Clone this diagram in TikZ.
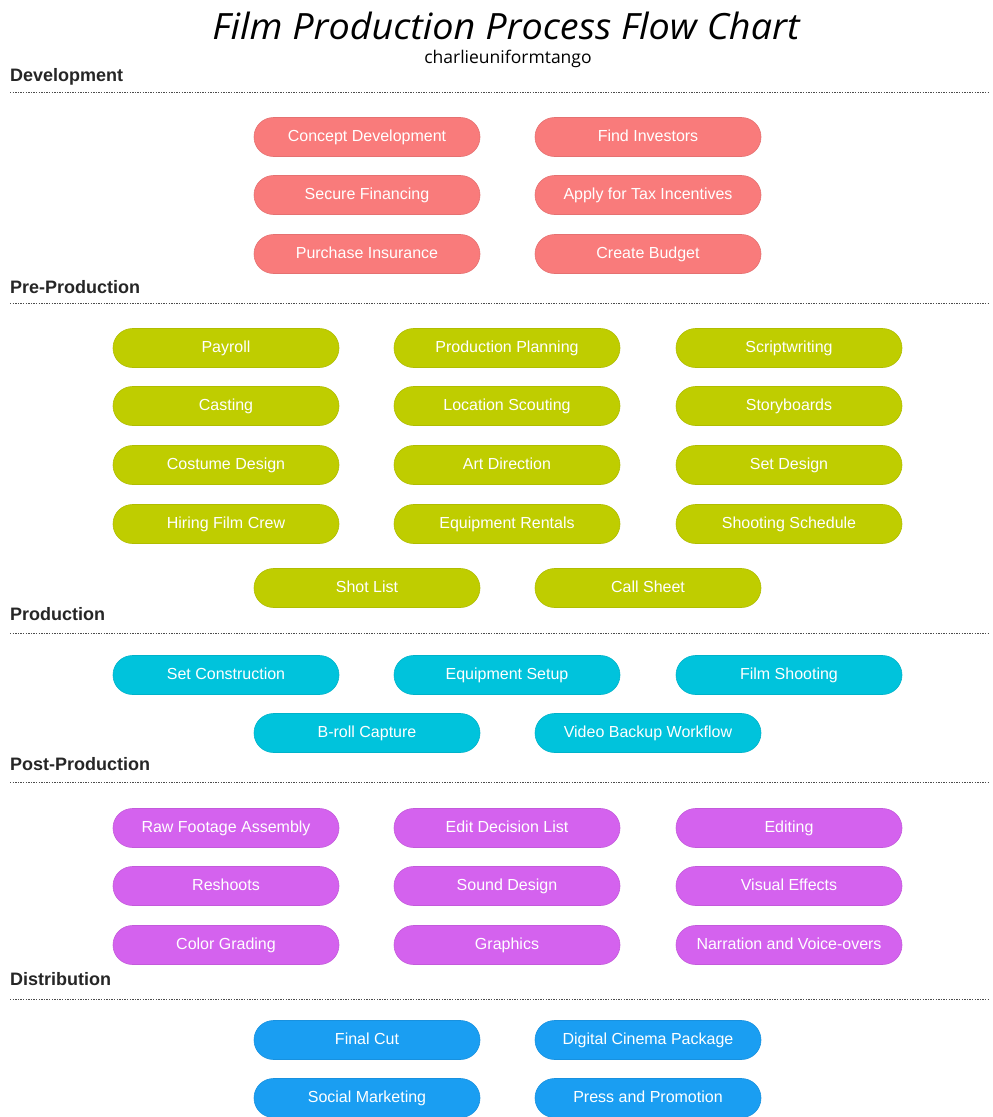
\documentclass[tikz,border=0pt]{standalone}
\usepackage{fontspec}
\setmainfont{Liberation Sans}
\newfontfamily\titlefont{Open Sans}
\usepackage{graphicx}

\definecolor{devred}{HTML}{F97B7B}
\definecolor{preyellow}{HTML}{BFCD00}
\definecolor{prodcyan}{HTML}{00C3DC}
\definecolor{postpurple}{HTML}{D462EE}
\definecolor{distblue}{HTML}{1A9EF2}

\tikzset{
  pill/.style={rounded corners=19.5pt, minimum width=226pt, minimum height=39pt,
               inner sep=0pt, text height=11.5pt, text depth=3.5pt,
               text=white, font=\fontsize{16}{18}\selectfont},
  devbox/.style={pill, fill=devred, draw=devred!92!black, line width=0.6pt},
  prebox/.style={pill, fill=preyellow, draw=preyellow!92!black, line width=0.6pt},
  prodbox/.style={pill, fill=prodcyan, draw=prodcyan!92!black, line width=0.6pt},
  postbox/.style={pill, fill=postpurple, draw=postpurple!92!black, line width=0.6pt},
  distbox/.style={pill, fill=distblue, draw=distblue!92!black, line width=0.6pt},
  phase/.style={anchor=base west, inner sep=0pt, font=\bfseries\fontsize{18}{20}\selectfont, text=black!85},
  rule/.style={draw=black!70, line width=1pt, dash pattern=on 1.3pt off 1.3pt}
}

\begin{document}
\begin{tikzpicture}[x=1pt, y=-1pt]
  \useasboundingbox[fill=white] (0,0) rectangle (993,1117);

  % title
  \node[anchor=base, inner sep=0pt] (title) at (506,39.5)
    {\resizebox{587pt}{27.5pt}{\titlefont\itshape Film Production Process Flow Chart}};
  \node[anchor=base, inner sep=0pt, font=\titlefont\fontsize{17.5}{20}\selectfont] (author) at (508,63.5) {charlieuniformtango};

  % section headings and dotted rules
  \node[phase] (hdev) at (10,81) {Development};
  \coordinate (rdevl) at (10,92);  \coordinate (rdevr) at (990,92);
  \node[phase] (hpre) at (10,293) {Pre-Production};
  \coordinate (rprel) at (10,303); \coordinate (rprer) at (990,303);
  \node[phase] (hprod) at (10,620.5) {Production};
  \coordinate (rprodl) at (10,633); \coordinate (rprodr) at (990,633);
  \node[phase] (hpost) at (10,770.5) {Post-Production};
  \coordinate (rpostl) at (10,782); \coordinate (rpostr) at (990,782);
  \node[phase] (hdist) at (10,985.5) {Distribution};
  \coordinate (rdistl) at (10,999); \coordinate (rdistr) at (990,999);
  \draw[rule] (rdevl) -- (rdevr);
  \draw[rule] (rprel) -- (rprer);
  \draw[rule] (rprodl) -- (rprodr);
  \draw[rule] (rpostl) -- (rpostr);
  \draw[rule] (rdistl) -- (rdistr);

  % development
  \node[devbox] (concept) at (367,137) {Concept Development};
  \node[devbox] (investors) at (648,137) {Find Investors};
  \node[devbox] (financing) at (367,195) {Secure Financing};
  \node[devbox] (taxinc) at (648,195) {Apply for Tax Incentives};
  \node[devbox] (insurance) at (367,254) {Purchase Insurance};
  \node[devbox] (budget) at (648,254) {Create Budget};

  % pre-production
  \node[prebox] (payroll) at (226,348) {Payroll};
  \node[prebox] (planning) at (507,348) {Production Planning};
  \node[prebox] (script) at (789,348) {Scriptwriting};
  \node[prebox] (casting) at (226,406) {Casting};
  \node[prebox] (scouting) at (507,406) {Location Scouting};
  \node[prebox] (boards) at (789,406) {Storyboards};
  \node[prebox] (costume) at (226,465) {Costume Design};
  \node[prebox] (artdir) at (507,465) {Art Direction};
  \node[prebox] (setdesign) at (789,465) {Set Design};
  \node[prebox] (crew) at (226,524) {Hiring Film Crew};
  \node[prebox] (rentals) at (507,524) {Equipment Rentals};
  \node[prebox] (schedule) at (789,524) {Shooting Schedule};
  \node[prebox] (shotlist) at (367,588) {Shot List};
  \node[prebox] (callsheet) at (648,588) {Call Sheet};

  % production
  \node[prodbox] (setbuild) at (226,675) {Set Construction};
  \node[prodbox] (setup) at (507,675) {Equipment Setup};
  \node[prodbox] (shooting) at (789,675) {Film Shooting};
  \node[prodbox] (broll) at (367,733) {B-roll Capture};
  \node[prodbox] (backup) at (648,733) {Video Backup Workflow};

  % post-production
  \node[postbox] (assembly) at (226,828) {Raw Footage Assembly};
  \node[postbox] (edl) at (507,828) {Edit Decision List};
  \node[postbox] (editing) at (789,828) {Editing};
  \node[postbox] (reshoots) at (226,886) {Reshoots};
  \node[postbox] (sound) at (507,886) {Sound Design};
  \node[postbox] (vfx) at (789,886) {Visual Effects};
  \node[postbox] (grading) at (226,945) {Color Grading};
  \node[postbox] (graphics) at (507,945) {Graphics};
  \node[postbox] (voiceover) at (789,945) {Narration and Voice-overs};

  % distribution
  \node[distbox] (finalcut) at (367,1040) {Final Cut};
  \node[distbox] (dcp) at (648,1040) {Digital Cinema Package};
  \node[distbox] (social) at (367,1098) {Social Marketing};
  \node[distbox] (press) at (648,1098) {Press and Promotion};
\end{tikzpicture}
\end{document}
